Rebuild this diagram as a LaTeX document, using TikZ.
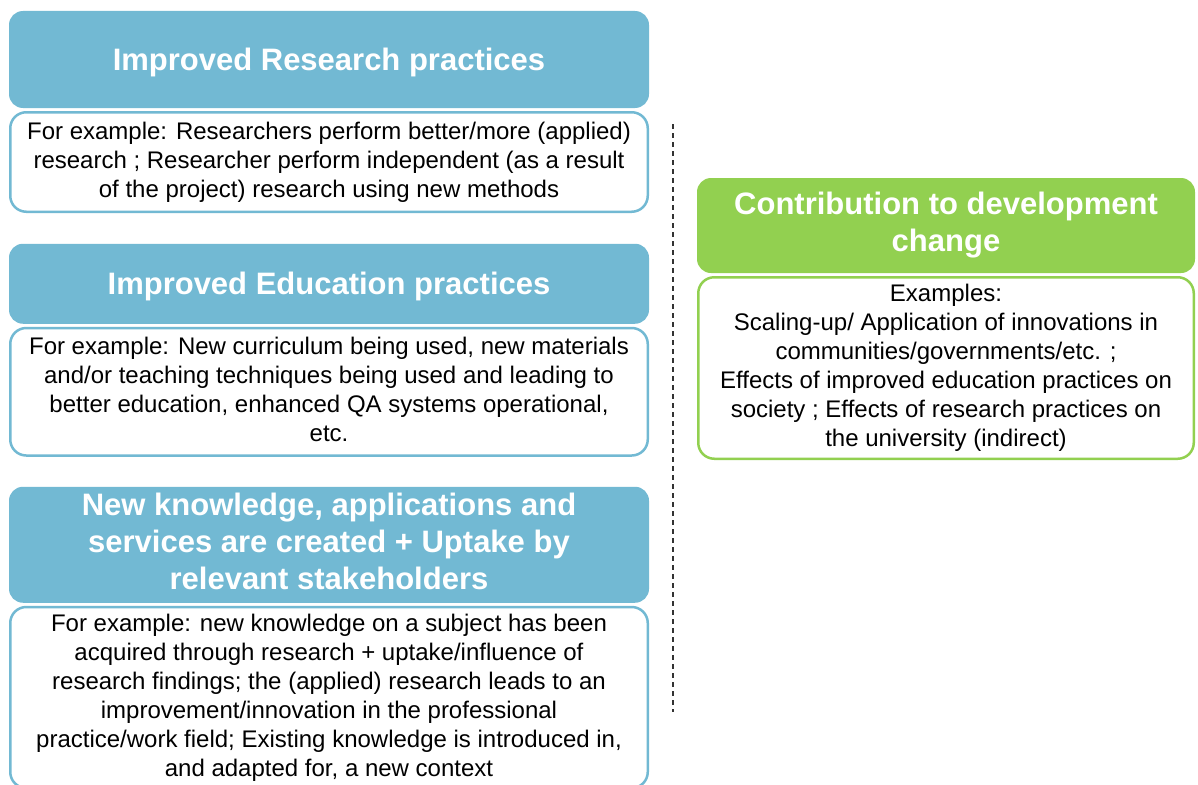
\documentclass[tikz,border=0pt]{standalone}
\usepackage{fontspec}
\setmainfont{Liberation Sans}
\usetikzlibrary{positioning}
\definecolor{headblue}{RGB}{114,185,211}
\definecolor{headgreen}{RGB}{146,208,80}

\begin{document}
\begin{tikzpicture}[x=1pt, y=1pt, node distance=4pt]
    \tikzstyle{lines}=[align=center, inner sep=0pt, outer sep=0pt,
      execute at begin node={\rule{0pt}{0.9em}},
      execute at end node={\rule[-0.22em]{0pt}{0pt}}]
    \tikzstyle{head}=[lines, fill=headblue, rounded corners=14pt,
      text=white, minimum width=640pt,
      font=\fontsize{31}{37}\selectfont\bfseries]
    \tikzstyle{body}=[lines, draw=headblue, line width=2.5pt, fill=white,
      rounded corners=16pt, minimum width=637.5pt,
      font=\fontsize{24}{29}\selectfont]
    \useasboundingbox (0,0) rectangle (1198,-784);

    % left column
    \node[head, minimum height=97pt] (research) at (329,-59.5) {Improved Research practices};
    \node[body, below=4.25pt of research, minimum height=99.5pt] (researchex)
      {For example: Researchers perform better/more (applied)\\
       research ; Researcher perform independent (as a result\\
       of the project) research using new methods};

    \node[head, below=32pt of researchex, minimum height=80pt] (education) {Improved Education practices};
    \node[body, below=4.25pt of education, minimum height=127.5pt] (educationex)
      {For example: New curriculum being used, new materials\\
       and/or teaching techniques being used and leading to\\
       better education, enhanced QA systems operational,\\
       etc.};

    \node[head, below=31.25pt of educationex, minimum height=116pt] (knowledge)
      {New knowledge, applications and\\
       services are created + Uptake by\\
       relevant stakeholders};
    \node[body, below=4.25pt of knowledge, minimum height=181pt] (knowledgeex)
      {For example: new knowledge on a subject has been\\
       acquired through research + uptake/influence of\\
       research findings; the (applied) research leads to an\\
       improvement/innovation in the professional\\
       practice/work field; Existing knowledge is introduced in,\\
       and adapted for, a new context};

    % right column
    \node[head, fill=headgreen, minimum width=498pt, minimum height=95pt] (contribution) at (946,-225.5)
      {Contribution to development\\change};
    \node[body, draw=headgreen, below=4.25pt of contribution, minimum width=495.5pt, minimum height=181.5pt] (contributionex)
      {Examples:\\
       Scaling-up/ Application of innovations in\\
       communities/governments/etc. ;\\
       Effects of improved education practices on\\
       society ; Effects of research practices on\\
       the university (indirect)};

    % separator
    \coordinate (septop) at (673,-124);
    \coordinate (sepbot) at (673,-712);
    \draw[line width=1.2pt, black!80, dash pattern=on 5pt off 4pt] (septop) -- (sepbot);
\end{tikzpicture}
\end{document}
